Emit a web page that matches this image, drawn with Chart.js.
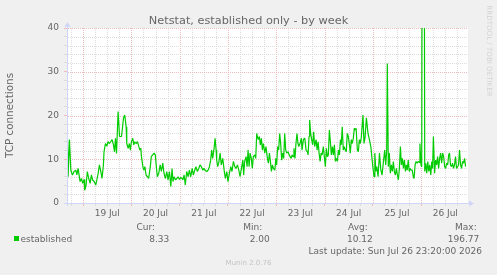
<!DOCTYPE html>
<html>
<head>
<meta charset="utf-8">
<script src="https://cdn.jsdelivr.net/npm/chart.js@4.4.1/dist/chart.umd.min.js"></script>
<style>
html, body { margin: 0; padding: 0; background: #f0f0f0; }
canvas { display: block; }
</style>
</head>
<body>
<canvas id="chart" width="497" height="275"></canvas>
<script>
// time in hours from 19 Jul 00:00
var hours = [
    -7.95, -7.8, -7.45, -6.8, -6.1, -5.3, -4.5, -3.6, -3.1, -2.5, -1.5, -0.8, -0.2, 0.5, 0.8, 1.5,
    2.1, 2.8, 3.5, 4.1, 4.8, 5.5, 6.3, 6.8, 7.5, 8.1, 8.8, 9.4, 10.1, 10.4, 11.1, 11.8,
    12.4, 13.1, 13.7, 14.4, 15.1, 15.6, 16.1, 16.6, 17.4, 18.1, 19.1, 20.1, 20.7,
    21.4, 21.7, 22.4, 23.0, 23.5, 24.0, 24.7, 25.2, 25.7, 26.3, 27.0, 27.7, 28.2, 28.7, 29.0,
    29.7, 30.2, 30.7, 31.3, 32.0, 32.6, 33.4, 33.9, 34.6, 35.3, 35.9, 36.4, 36.9, 37.6, 38.3,
    38.9, 39.6, 40.2, 40.9, 41.6, 42.2, 42.9, 43.6, 44.2, 44.7, 45.2, 45.9, 46.6, 47.2, 47.9,
    48.5, 49.2, 49.6, 50.2, 50.8, 51.5, 52.2, 52.8, 53.5, 54.2, 54.8, 55.5, 56.1, 56.8, 57.5,
    58.1, 58.8, 59.5, 60.1, 60.8, 61.5, 62.1, 62.8, 63.4, 63.9, 64.4, 65.1, 65.6, 66.1, 66.4,
    66.9, 67.4, 68.1, 68.7, 69.4, 70.1, 70.7, 71.4, 72.0, 72.7, 73.4, 74.0, 74.7, 75.4, 76.0,
    76.7, 77.4, 78.0, 78.7, 79.4, 79.8, 80.3, 81.0, 81.5, 82.0, 82.5, 83.0, 83.6, 84.1, 84.6,
    85.3, 85.8, 86.3, 86.6, 87.1, 87.6, 88.1, 88.6, 89.1, 89.6, 90.3, 90.9, 91.6, 92.1, 92.6,
    93.1, 93.6, 94.1, 94.6, 95.3, 95.8, 96.2, 96.7, 97.2, 97.7, 98.2, 98.7, 99.2, 99.7, 100.2,
    100.7, 101.2, 101.9, 102.4, 102.9, 103.4, 103.9, 104.4, 104.8, 105.3, 105.8, 106.3, 106.8,
    107.2, 107.8, 108.5, 108.8, 109.5, 110.2, 110.8, 111.5, 111.8, 112.3, 112.6, 113.1, 113.6,
    114.1, 114.6, 115.1, 115.8, 116.3, 116.8, 117.3, 117.8, 118.3, 118.8, 119.4, 119.9, 120.4,
    120.9, 121.4, 121.9, 122.4, 122.9, 123.4, 123.9, 124.4, 124.9, 125.4, 125.9, 126.4, 126.9,
    127.4, 127.9, 128.3, 128.8, 129.3, 129.8, 130.3, 130.8, 131.3, 131.8, 132.3, 132.8, 133.3,
    133.8, 134.3, 134.8, 135.3, 135.7, 136.3, 136.8, 137.3, 137.8, 138.3, 139.1, 139.6, 140.1,
    140.8, 141.6, 142.3, 143.0, 143.5, 144.0, 144.6, 145.0, 145.5, 146.0, 146.6, 147.3, 148.0,
    148.6, 149.2, 149.9, 150.4, 150.9, 151.2, 151.7, 152.2, 152.7, 153.2, 153.7, 154.2, 154.7,
    155.2, 155.7, 156.2, 156.7, 157.2, 157.7, 158.2, 158.7, 159.2, 159.7, 160.2, 160.7, 161.1,
    161.6, 162.1, 162.6, 163.1, 163.6, 164.1, 164.5, 165.0, 165.5, 166.0, 166.5, 167.0, 167.4,
    167.9, 168.3, 169.0, 169.8, 170.3, 170.8, 171.3, 171.8, 172.3, 172.8, 173.3, 173.7, 174.1,
    174.7, 175.2, 175.7, 176.2, 176.7, 177.2, 177.7, 178.2, 178.7, 179.2, 179.7, 180.2, 180.7,
    181.2, 181.7, 182.1, 182.6, 183.1, 183.6, 184.1, 184.6, 185.1, 185.6, 186.1, 186.6, 187.1,
    187.6, 188.1, 188.6, 189.1, 189.6, 190.1
];

var established = [
    6, 15, 6, 14.5, 7.5, 6.4, 7.2, 7.5, 6.4, 7.9, 4.9, 5.6, 4.5, 5.4, 2.9, 4.1,
    7.2, 5.6, 4.5, 6.4, 5.2, 4.9, 4.1, 5.2, 6.8, 8.7, 7.2, 5.6, 8.7, 11.7, 13.6, 13,
    14, 13.6, 14, 14.5, 13.3, 11.7, 14.8, 11.3, 20.9, 15.2, 15.2, 19.5, 20.1,
    17.4, 13.6, 12.5, 13.6, 12.1, 14, 14.8, 13.3, 14, 13.6, 14, 12.9, 12.1, 12.5, 10.6,
    8.3, 7.5, 8.3, 6.4, 6.0, 5.6, 8.3, 10.6, 11, 11.4, 11, 8.3, 6, 6.8, 8.7,
    7.2, 9.1, 6.8, 5.6, 7.2, 5.3, 7.2, 3.8, 7.9, 4.9, 6, 5.3, 5.6, 6, 5.4,
    5.8, 5.6, 5.3, 6.4, 4.1, 7.2, 6.0, 7.5, 6.0, 7.9, 6.4, 7.5, 8.3, 7.2, 7.9,
    8.7, 8.3, 7.5, 7.9, 7.4, 7.2, 7.5, 8.3, 9.8, 12.1, 10.2, 12.5, 14.8, 12.1, 9.8,
    8.3, 9.1, 11.4, 8.7, 10.2, 7.5, 5.6, 7.2, 4.9, 6.8, 8.3, 7.2, 9.5, 8.3, 7.9,
    8.7, 7.5, 6.0, 7.9, 9.8, 6.4, 9.5, 10.6, 8.3, 12.1, 8.3, 11.4, 10.2, 7.9, 10.6,
    11, 10.2, 15.9, 15.2, 14.5, 15.2, 13.3, 14.8, 12.1, 13.6, 11.4, 12.9, 10.2, 9.1, 11.4,
    9.5, 7.2, 8.7, 7.9, 7.5, 10.2, 8.7, 12.9, 12.1, 15.9, 13.6, 9.8, 11.4, 10.2, 15.9,
    12.1, 11.4, 11.7, 11, 10.6, 10.2, 11, 10.6, 12.5, 10.2, 13.6, 15.9, 13.6,
    12.9, 13.6, 14.8, 12.1, 14.5, 14.8, 12.1, 11.7, 11, 15.2, 19, 15.9, 14.5,
    13.3, 16.3, 12.9, 14.5, 12.1, 14, 11.4, 9.5, 11.4, 11, 12.9, 10.6, 8.3,
    12.5, 10.6, 11, 16.7, 14, 11, 12.9, 11, 13.3, 9.5, 10.2, 9.5, 12.1,
    11, 14.5, 13.3, 17.4, 12.1, 12.9, 12.1, 11.7, 15.9, 15.2, 13.6, 11.4, 14.5,
    13.6, 14.8, 17.1, 16.7, 17.1, 12.1, 11.7, 14.5, 13.6, 15.2, 20.1, 13.6, 14.8,
    19.5, 15.9, 14.5, 12.9, 10.6, 8.3, 6.0, 11.4, 7.2, 8.3, 6.0, 11.4, 7.5,
    6.4, 9.1, 12.1, 8.7, 12.1, 31.9, 8.3, 11.4, 6.8, 8.7, 7.2, 9.5, 7.2,
    6.4, 7.9, 6.4, 5.3, 7.9, 12.9, 8.7, 10.2, 7.9, 9.8, 7.2, 8.7, 7.5,
    9.8, 7.2, 7.9, 7.5, 7.5, 6.0, 5.6, 8.7, 9.5, 9.1, 9.5, 9.3, 13.6,
    8.8, 8.3, 196.77, 7.2, 9.1, 6.8, 9.5, 7.2, 8.7, 6.4, 9.5, 7.9, 15.2,
    6.8, 9.8, 8.7, 10.6, 7.9, 10.2, 11.4, 9.1, 11.4, 10.6, 8.3, 7.9, 9.1,
    8.7, 11, 11.4, 8.7, 8.3, 9.1, 7.9, 8.7, 10.6, 7.9, 8.3, 8.7, 12.1,
    8.7, 7.9, 9.5, 9.1, 10.2, 8.33
];

var dayLabels = ['19 Jul', '20 Jul', '21 Jul', '22 Jul', '23 Jul', '24 Jul', '25 Jul', '26 Jul'];
var yLabels = [0, 10, 20, 30, 40];
var statNames = ['Cur:', 'Min:', 'Avg:', 'Max:'];
var statValues = ['8.33', '2.00', '10.12', '196.77'];

const FONT = '"DejaVu Sans", sans-serif';
const TEXT = '#666666';
const AXIS = '#cfd6f8';
const MGRID = '#eebcbc';
const GRID = '#dcdcdc';

var points = hours.map(function (h, i) {
    return { x: h, y: established[i] };
});

function isDay(v) {
    return Math.abs(v / 24 - Math.round(v / 24)) < 1e-6;
}

function xGridColor(c) {
    if (!c.tick) return GRID;
    return isDay(c.tick.value) ? MGRID : GRID;
}

function yGridColor(c) {
    if (!c.tick) return GRID;
    return yLabels.indexOf(c.tick.value) >= 0 ? MGRID : GRID;
}

var muninLook = {
    id: 'muninLook',
    beforeDraw: function (chart) {
        var ctx = chart.ctx, a = chart.chartArea;
        ctx.save();
        ctx.fillStyle = '#f0f0f0';
        ctx.fillRect(0, 0, chart.width, chart.height);
        ctx.fillStyle = '#ffffff';
        ctx.fillRect(a.left, a.top, a.right - a.left, a.bottom - a.top);
        ctx.restore();
    },
    // dotted rrdtool style grid, one pixel on / one off
    beforeDatasetsDraw: function (chart) {
        var ctx = chart.ctx, a = chart.chartArea;
        var xs = chart.scales.x, ys = chart.scales.y;
        ctx.save();
        xs.ticks.forEach(function (t) {
            var px = Math.round(xs.getPixelForValue(t.value));
            ctx.fillStyle = isDay(t.value) ? MGRID : GRID;
            for (var y = a.top; y < a.bottom; y += 2) ctx.fillRect(px, y, 1, 1);
        });
        ys.ticks.forEach(function (t) {
            var py = Math.round(ys.getPixelForValue(t.value));
            if (py >= a.bottom) return;
            ctx.fillStyle = yLabels.indexOf(t.value) >= 0 ? MGRID : GRID;
            for (var x = a.left + 1; x < a.right; x += 2) ctx.fillRect(x, py, 1, 1);
        });
        ctx.restore();
    },
    afterDraw: function (chart) {
        var ctx = chart.ctx, a = chart.chartArea;
        ctx.save();

        // axes with arrows
        ctx.strokeStyle = AXIS;
        ctx.fillStyle = AXIS;
        ctx.lineWidth = 1;
        ctx.beginPath();
        ctx.moveTo(a.left - 3, a.bottom + 0.5);
        ctx.lineTo(a.right + 2, a.bottom + 0.5);
        ctx.moveTo(a.left + 0.5, a.bottom + 3);
        ctx.lineTo(a.left + 0.5, a.top - 2);
        ctx.stroke();
        ctx.beginPath();
        ctx.moveTo(a.right + 1, a.bottom - 2.5);
        ctx.lineTo(a.right + 6, a.bottom + 0.5);
        ctx.lineTo(a.right + 1, a.bottom + 3.5);
        ctx.closePath();
        ctx.fill();
        ctx.beginPath();
        ctx.moveTo(a.left - 2.5, a.top - 1);
        ctx.lineTo(a.left + 0.5, a.top - 6);
        ctx.lineTo(a.left + 3.5, a.top - 1);
        ctx.closePath();
        ctx.fill();

        // title
        ctx.fillStyle = TEXT;
        ctx.font = '11.3px ' + FONT;
        ctx.textAlign = 'center';
        ctx.textBaseline = 'alphabetic';
        ctx.fillText('Netstat, established only - by week', chart.width / 2, 24);

        // legend block
        ctx.font = '9px ' + FONT;
        ctx.textAlign = 'right';
        var labelRight = [155, 262.3, 367.7, 476.7];
        var valueRight = [169.3, 269.7, 372.7, 479.3];
        for (var i = 0; i < statNames.length; i++) {
            ctx.fillText(statNames[i], labelRight[i], 229.5);
            ctx.fillText(statValues[i], valueRight[i], 241.8);
        }
        ctx.textAlign = 'left';
        ctx.fillText('established', 20.5, 241.5);
        ctx.fillStyle = '#00cc00';
        ctx.fillRect(14, 236, 5, 5);

        ctx.fillStyle = TEXT;
        ctx.textAlign = 'right';
        ctx.fillText('Last update: Sun Jul 26 23:20:00 2026', 482, 253.5);

        ctx.fillStyle = '#c4c4c4';
        ctx.font = '7px ' + FONT;
        ctx.textAlign = 'center';
        ctx.fillText('Munin 2.0.76', chart.width / 2, 264.8);

        // rrdtool watermark
        ctx.fillStyle = '#d4d4d4';
        ctx.font = '7.1px ' + FONT;
        ctx.translate(489, 51);
        ctx.rotate(Math.PI / 2);
        ctx.textBaseline = 'middle';
        ctx.fillText('RRDTOOL / TOBI OETIKER', 0, 0);

        ctx.restore();
    }
};

var chart = new Chart(document.getElementById('chart'), {
    type: 'line',
    data: {
        datasets: [{
            label: 'established',
            data: points,
            borderColor: '#00cc00',
            borderWidth: 1.2,
            borderJoinStyle: 'bevel',
            pointRadius: 0,
            fill: false,
            tension: 0
        }]
    },
    options: {
        responsive: false,
        animation: false,
        devicePixelRatio: 1,
        layout: { padding: { left: 0, top: 28, right: 29, bottom: 0 } },
        plugins: {
            legend: { display: false },
            tooltip: { enabled: false },
            title: { display: false }
        },
        scales: {
            x: {
                type: 'linear',
                min: -8,
                max: 191.3,
                afterBuildTicks: function (scale) {
                    var t = [];
                    for (var h = -6; h <= 186; h += 6) t.push({ value: h });
                    scale.ticks = t;
                },
                afterFit: function (scale) { scale.height = 72; },
                grid: { drawOnChartArea: false, tickColor: xGridColor, lineWidth: 1, tickLength: 3 },
                border: { display: false },
                ticks: {
                    autoSkip: false,
                    maxRotation: 0,
                    padding: 2,
                    color: TEXT,
                    font: { family: FONT, size: 9 },
                    callback: function (v) {
                        var d = (v - 12) / 24;
                        return (d >= 0 && d === Math.floor(d)) ? dayLabels[d] : '';
                    }
                }
            },
            y: {
                min: 0,
                max: 40,
                afterBuildTicks: function (scale) {
                    var t = [];
                    for (var v = 0; v <= 40; v += 2) t.push({ value: v });
                    scale.ticks = t;
                },
                afterFit: function (scale) { scale.width = 67; },
                grid: { drawOnChartArea: false, tickColor: yGridColor, lineWidth: 1, tickLength: 3 },
                border: { display: false },
                title: {
                    display: true,
                    text: 'TCP connections',
                    color: TEXT,
                    font: { family: FONT, size: 10.4 },
                    padding: { top: 4, bottom: 0 }
                },
                ticks: {
                    autoSkip: false,
                    padding: 5,
                    color: TEXT,
                    font: { family: FONT, size: 9 },
                    callback: function (v) {
                        return yLabels.indexOf(v) >= 0 ? String(v) : '';
                    }
                }
            }
        }
    },
    plugins: [muninLook]
});
</script>
</body>
</html>
